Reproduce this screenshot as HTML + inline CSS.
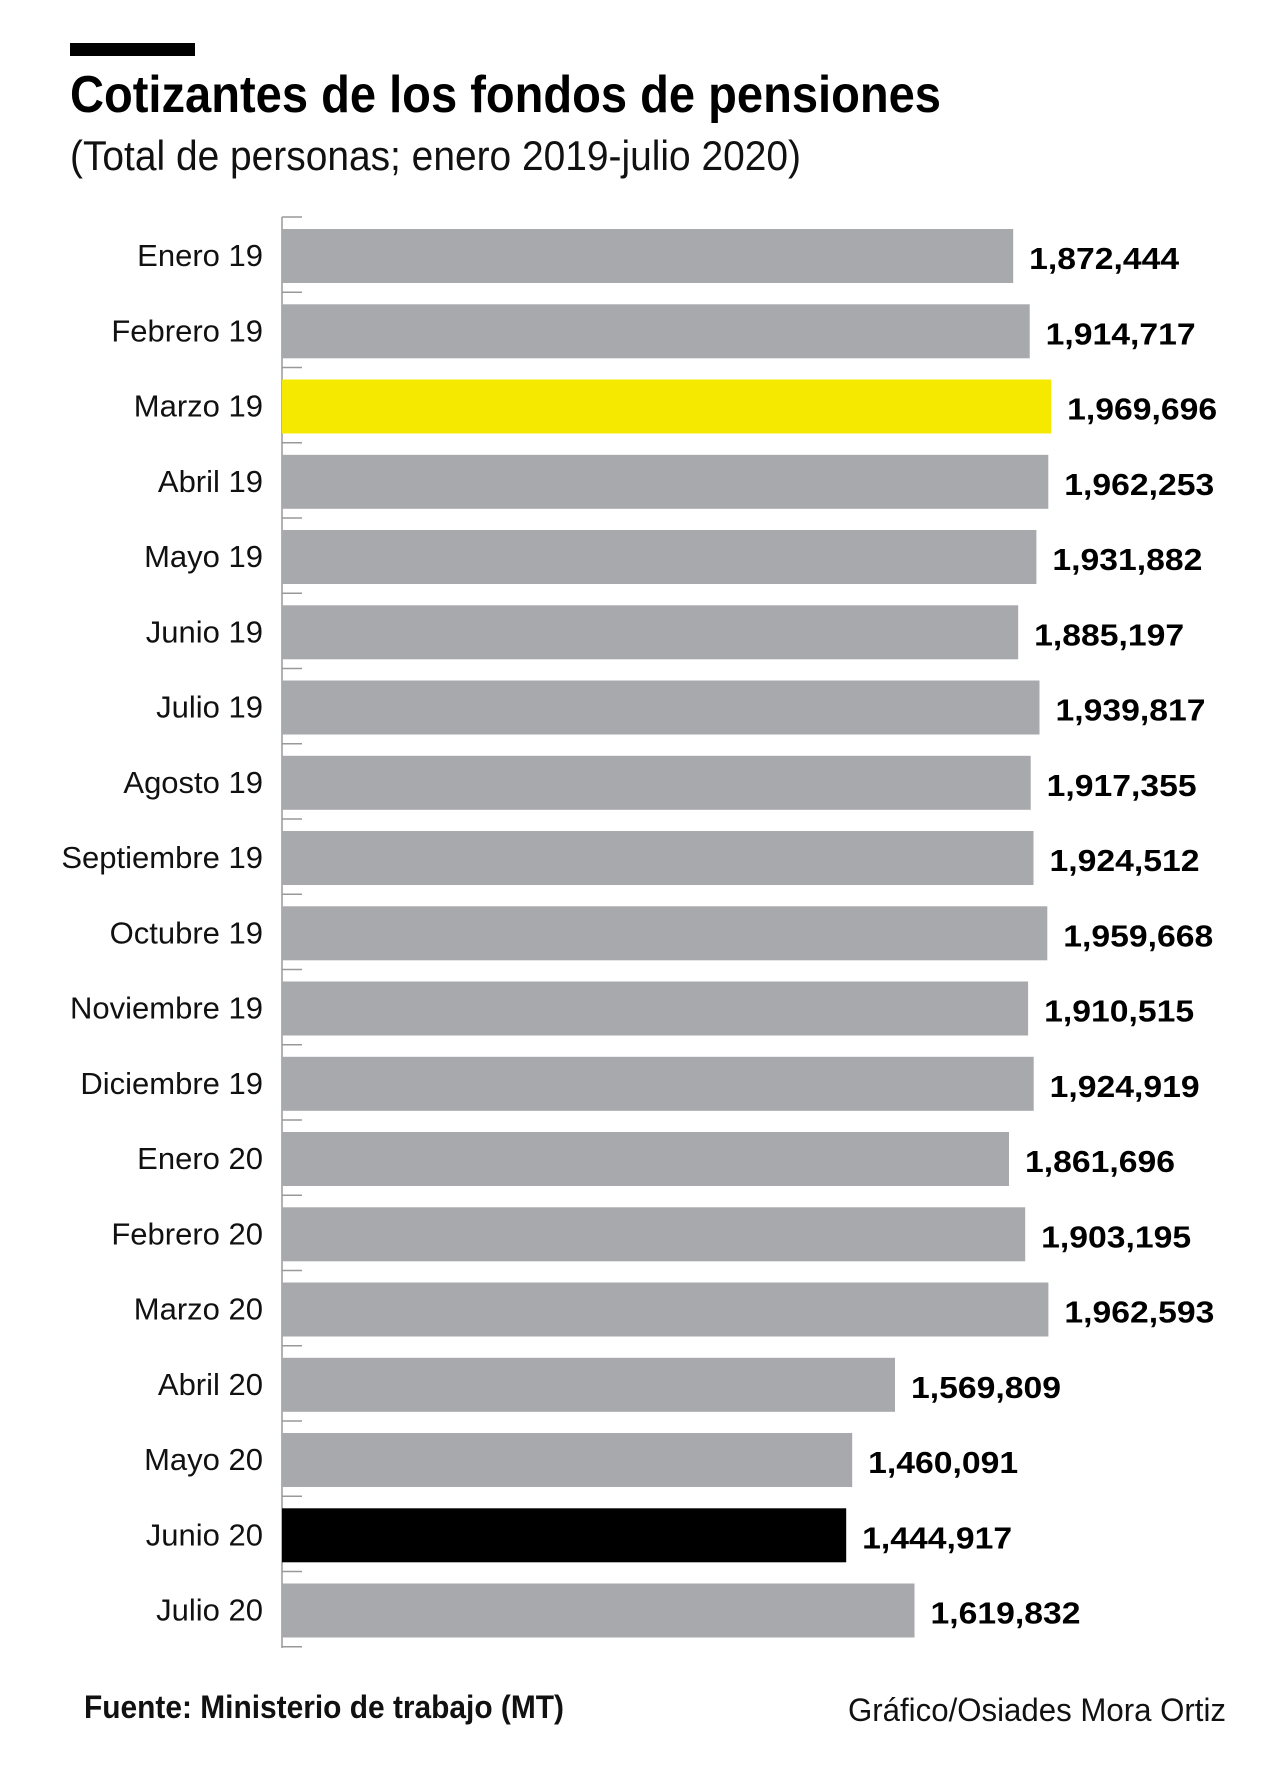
<!DOCTYPE html>
<html><head><meta charset="utf-8"><style>
html,body{margin:0;padding:0;background:#fff;}
svg{display:block;}
</style></head><body>
<svg width="1283" height="1767" viewBox="0 0 1283 1767" xmlns="http://www.w3.org/2000/svg">
<rect x="70" y="43" width="125" height="13" fill="#000"/>
<text x="70" y="112" font-family="Liberation Sans Narrow, Liberation Sans, sans-serif" font-weight="bold" font-size="52" textLength="871" lengthAdjust="spacingAndGlyphs" fill="#000">Cotizantes de los fondos de pensiones</text>
<text x="70" y="170" font-family="Liberation Sans Narrow, Liberation Sans, sans-serif" font-size="42" textLength="731" lengthAdjust="spacingAndGlyphs" fill="#111">(Total de personas; enero 2019-julio 2020)</text>
<line x1="282" y1="217" x2="282" y2="1648" stroke="#999" stroke-width="1.5"/>
<g id="chart" font-family="Liberation Sans, sans-serif"></g>
<text x="84" y="1718" font-family="Liberation Sans Narrow, Liberation Sans, sans-serif" font-size="32" font-weight="bold" textLength="480" lengthAdjust="spacingAndGlyphs" fill="#111">Fuente: Ministerio de trabajo (MT)</text>
<text x="1226" y="1721" text-anchor="end" font-family="Liberation Sans Narrow, Liberation Sans, sans-serif" font-size="32" textLength="378" lengthAdjust="spacingAndGlyphs" fill="#111">Gráfico/Osiades Mora Ortiz</text>
</svg>
<script>
var d=[["Enero 19",1872444],["Febrero 19",1914717],["Marzo 19",1969696],["Abril 19",1962253],["Mayo 19",1931882],["Junio 19",1885197],["Julio 19",1939817],["Agosto 19",1917355],["Septiembre 19",1924512],["Octubre 19",1959668],["Noviembre 19",1910515],["Diciembre 19",1924919],["Enero 20",1861696],["Febrero 20",1903195],["Marzo 20",1962593],["Abril 20",1569809],["Mayo 20",1460091],["Junio 20",1444917],["Julio 20",1619832]];
var g=document.getElementById("chart"),s="",P=75.25;
for(var i=0;i<=19;i++){var ty=(217+P*i).toFixed(1);s+='<line x1="282" y1="'+ty+'" x2="302" y2="'+ty+'" stroke="#999" stroke-width="1.5"/>';}
d.forEach(function(r,i){
var y=229+P*i,w=r[1]/1000*0.3905;
var c=i==2?"#f5e900":(i==17?"#000":"#a7a9ac");
s+='<rect x="282" y="'+y.toFixed(1)+'" width="'+w.toFixed(1)+'" height="54" fill="'+c+'"/>';
s+='<text x="263" y="'+(y+37).toFixed(1)+'" text-anchor="end" font-size="31" fill="#111">'+r[0]+'</text>';
var v=r[1].toString().replace(/\B(?=(\d{3})+(?!\d))/g,",");
s+='<text x="'+(282+w+16).toFixed(1)+'" y="'+(y+40).toFixed(1)+'" font-size="31" font-weight="bold" textLength="150" lengthAdjust="spacingAndGlyphs" fill="#000">'+v+'</text>';
});
g.innerHTML=s;
</script>
</body></html>
